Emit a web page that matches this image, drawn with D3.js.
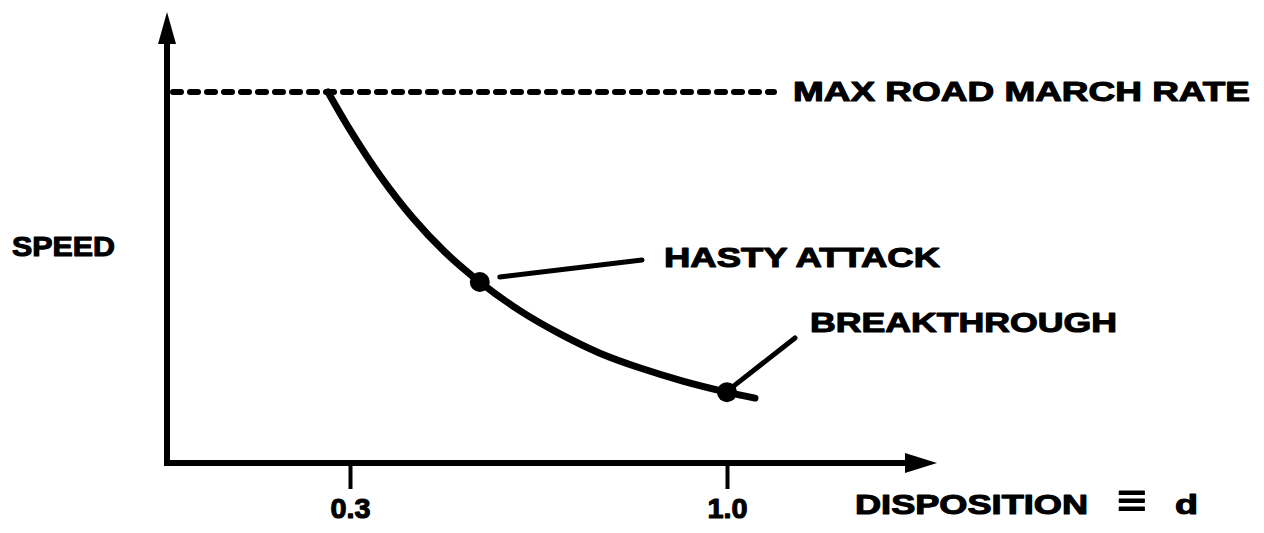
<!DOCTYPE html>
<html>
<head>
<meta charset="utf-8">
<script src="https://cdn.jsdelivr.net/npm/d3@7"></script>
<style>
  html, body { margin: 0; padding: 0; background: #fff; }
  svg { display: block; }
  .lbl { font-family: "Liberation Sans", Arial, Helvetica, sans-serif; font-weight: bold; fill: #000; stroke: #000; stroke-width: 1.1px; stroke-linejoin: round; }
</style>
</head>
<body>
<svg id="chart" width="1264" height="533"></svg>
<script>
// values (speed normalised so max road march rate = 1)
const curveDisp  = [0.259, 0.300, 0.356, 0.417, 0.476, 0.541, 0.616, 0.690, 0.764, 0.839, 0.918, 1.0, 1.052];
const curveSpeed = [1.0, 0.898, 0.774, 0.660, 0.569, 0.488, 0.410, 0.348, 0.296, 0.256, 0.221, 0.191, 0.175];
const maxRoadRate = 1.0;
const tickValues = [0.3, 1.0];
const tickLabels = ["0.3", "1.0"];
const pointNames = ["HASTY ATTACK", "BREAKTHROUGH"];
const pointDisp  = [0.541, 1.0];
const pointSpeed = [0.488, 0.191];

const svg = d3.select("#chart");

// scales
const x = d3.scaleLinear().domain([0.3, 1.0]).range([350, 727]);
const y = d3.scaleLinear().domain([0, 1]).range([463, 92]);

const x0 = 167, y0 = y(0);

// axes with arrow heads
svg.append("line")
  .attr("x1", x0).attr("y1", y0 + 3).attr("x2", x0).attr("y2", 40)
  .attr("stroke", "#000").attr("stroke-width", 6);
svg.append("path")
  .attr("d", `M${x0 - 9},44 L${x0},12 L${x0 + 9},44 Z`)
  .attr("fill", "#000");

svg.append("line")
  .attr("x1", x0 - 3).attr("y1", y0).attr("x2", 910).attr("y2", y0)
  .attr("stroke", "#000").attr("stroke-width", 6);
svg.append("path")
  .attr("d", `M905,${y0 - 10} L937,${y0} L905,${y0 + 10} Z`)
  .attr("fill", "#000");

// ticks
const xAxis = d3.axisBottom(x)
  .tickValues(tickValues)
  .tickFormat((d, i) => tickLabels[i])
  .tickSize(26)
  .tickSizeOuter(0);

const ax = svg.append("g")
  .attr("transform", `translate(0,${y0})`)
  .call(xAxis);
ax.select(".domain").remove();
ax.selectAll(".tick line").attr("stroke", "#000").attr("stroke-width", 4);
ax.selectAll(".tick text")
  .attr("class", "lbl")
  .attr("y", 55).attr("dy", 0)
  .style("font-size", "28px")
  .attr("textLength", 40).attr("lengthAdjust", "spacingAndGlyphs");

// max road march rate dashed line
svg.append("line")
  .attr("x1", 173).attr("x2", 774)
  .attr("y1", y(maxRoadRate)).attr("y2", y(maxRoadRate))
  .attr("stroke", "#000").attr("stroke-width", 6)
  .attr("stroke-linecap", "round")
  .attr("stroke-dasharray", "8 9");

// speed curve
const line = d3.line()
  .x(d => x(d[0]))
  .y(d => y(d[1]))
  .curve(d3.curveCatmullRom.alpha(0.5));

svg.append("path")
  .datum(d3.zip(curveDisp, curveSpeed))
  .attr("d", line)
  .attr("fill", "none")
  .attr("stroke", "#000")
  .attr("stroke-width", 7)
  .attr("stroke-linecap", "round");

// marked points
const pts = d3.zip(pointDisp, pointSpeed);
svg.selectAll("circle.pt")
  .data(pts)
  .enter()
  .append("circle")
  .attr("class", "pt")
  .attr("cx", d => x(d[0]))
  .attr("cy", d => y(d[1]))
  .attr("r", 10)
  .attr("fill", "#000");

// leader lines
const hx = x(pointDisp[0]), hy = y(pointSpeed[0]);
svg.append("line")
  .attr("x1", hx + 20).attr("y1", hy - 5)
  .attr("x2", 642).attr("y2", 260)
  .attr("stroke", "#000").attr("stroke-width", 5).attr("stroke-linecap", "round");
const bx = x(pointDisp[1]), by = y(pointSpeed[1]);
svg.append("line")
  .attr("x1", bx + 4).attr("y1", by - 4)
  .attr("x2", 795).attr("y2", 338)
  .attr("stroke", "#000").attr("stroke-width", 5).attr("stroke-linecap", "round");

// labels
function label(txt, tx, ty, len, size) {
  svg.append("text")
    .attr("class", "lbl")
    .attr("x", tx).attr("y", ty)
    .style("font-size", (size || 28) + "px")
    .attr("textLength", len)
    .attr("lengthAdjust", "spacingAndGlyphs")
    .text(txt);
}

label("MAX ROAD MARCH RATE", 793, y(maxRoadRate) + 9, 457);
label("SPEED", 12, 256, 103);
label(pointNames[0], 664, 267, 276);
label(pointNames[1], 810, 332, 307);
label("DISPOSITION", 855, 514, 233);
label("\u2261", 1117, 516, 30, 46);
label("d", 1175, 514, 23);
</script>
</body>
</html>
